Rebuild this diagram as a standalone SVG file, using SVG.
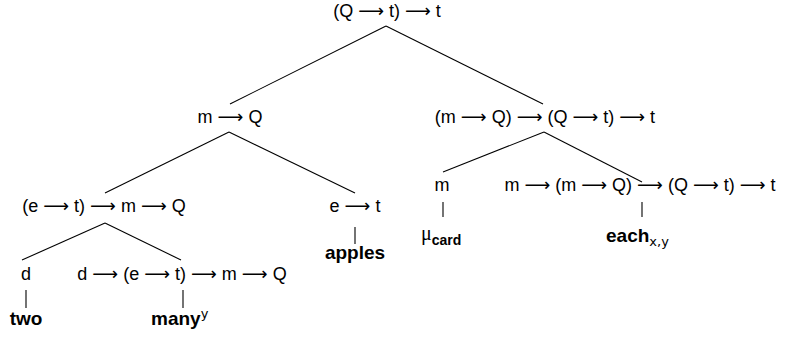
<svg xmlns="http://www.w3.org/2000/svg" width="788" height="339" viewBox="0 0 788 339">
<style>
text{font-family:"Liberation Sans",Arial,sans-serif;font-size:18px;fill:#000}
.t{text-anchor:middle}
.b{font-weight:bold;font-size:19px}
.s{font-weight:bold;font-size:14px}
.a{font-family:"DejaVu Sans",sans-serif}
.m{font-family:"DejaVu Sans",sans-serif;font-size:13px}
.g{font-family:"Liberation Serif",serif;font-size:20px}
line{stroke:#000;stroke-width:1.1}
</style>
<rect width="788" height="339" fill="#fff"/>
<g id="connectors">
<line x1="386" y1="26" x2="230" y2="104"/>
<line x1="386" y1="26" x2="543" y2="104"/>
<line x1="229" y1="132" x2="105" y2="193"/>
<line x1="229" y1="132" x2="355" y2="193"/>
<line x1="544" y1="132" x2="443" y2="172"/>
<line x1="544" y1="132" x2="642" y2="182"/>
<line x1="105" y1="223" x2="22" y2="260"/>
<line x1="105" y1="223" x2="181" y2="260"/>
<line x1="355" y1="227" x2="355" y2="244"/>
<line x1="443" y1="202" x2="443" y2="217"/>
<line x1="642" y1="202" x2="642" y2="217"/>
<line x1="26" y1="290" x2="26" y2="308"/>
<line x1="183" y1="290" x2="183" y2="308"/>
</g>
<g id="n-root"><text class="t" x="387" y="17">(Q <tspan class="a">⟶</tspan> t) <tspan class="a">⟶</tspan> t</text></g>
<g id="n-mQ"><text class="t" x="230" y="123">m <tspan class="a">⟶</tspan> Q</text></g>
<g id="n-each-phrase"><text class="t" x="545" y="123">(m <tspan class="a">⟶</tspan> Q) <tspan class="a">⟶</tspan> (Q <tspan class="a">⟶</tspan> t) <tspan class="a">⟶</tspan> t</text></g>
<g id="n-etmQ"><text class="t" x="104" y="212">(e <tspan class="a">⟶</tspan> t) <tspan class="a">⟶</tspan> m <tspan class="a">⟶</tspan> Q</text></g>
<g id="n-et"><text class="t" x="355" y="212">e <tspan class="a">⟶</tspan> t</text></g>
<g id="n-m"><text class="t" x="442" y="191">m</text></g>
<g id="n-each"><text class="t" x="640" y="191">m <tspan class="a">⟶</tspan> (m <tspan class="a">⟶</tspan> Q) <tspan class="a">⟶</tspan> (Q <tspan class="a">⟶</tspan> t) <tspan class="a">⟶</tspan> t</text></g>
<g id="n-d"><text class="t" x="26" y="280">d</text></g>
<g id="n-many-type"><text class="t" x="182" y="280">d <tspan class="a">⟶</tspan> (e <tspan class="a">⟶</tspan> t) <tspan class="a">⟶</tspan> m <tspan class="a">⟶</tspan> Q</text></g>
<g id="n-apples"><text class="t b" x="355" y="259">apples</text></g>
<g id="n-mucard"><text x="421" y="240"><tspan class="g">μ</tspan><tspan class="s" dy="5">card</tspan></text></g>
<g id="n-eachxy"><text x="606" y="242"><tspan class="b">each</tspan><tspan class="m" dy="4">x,y</tspan></text></g>
<g id="n-two"><text class="t b" x="26" y="325">two</text></g>
<g id="n-many"><text x="151" y="325"><tspan class="b">many</tspan><tspan class="m" dy="-7">y</tspan></text></g>
</svg>
